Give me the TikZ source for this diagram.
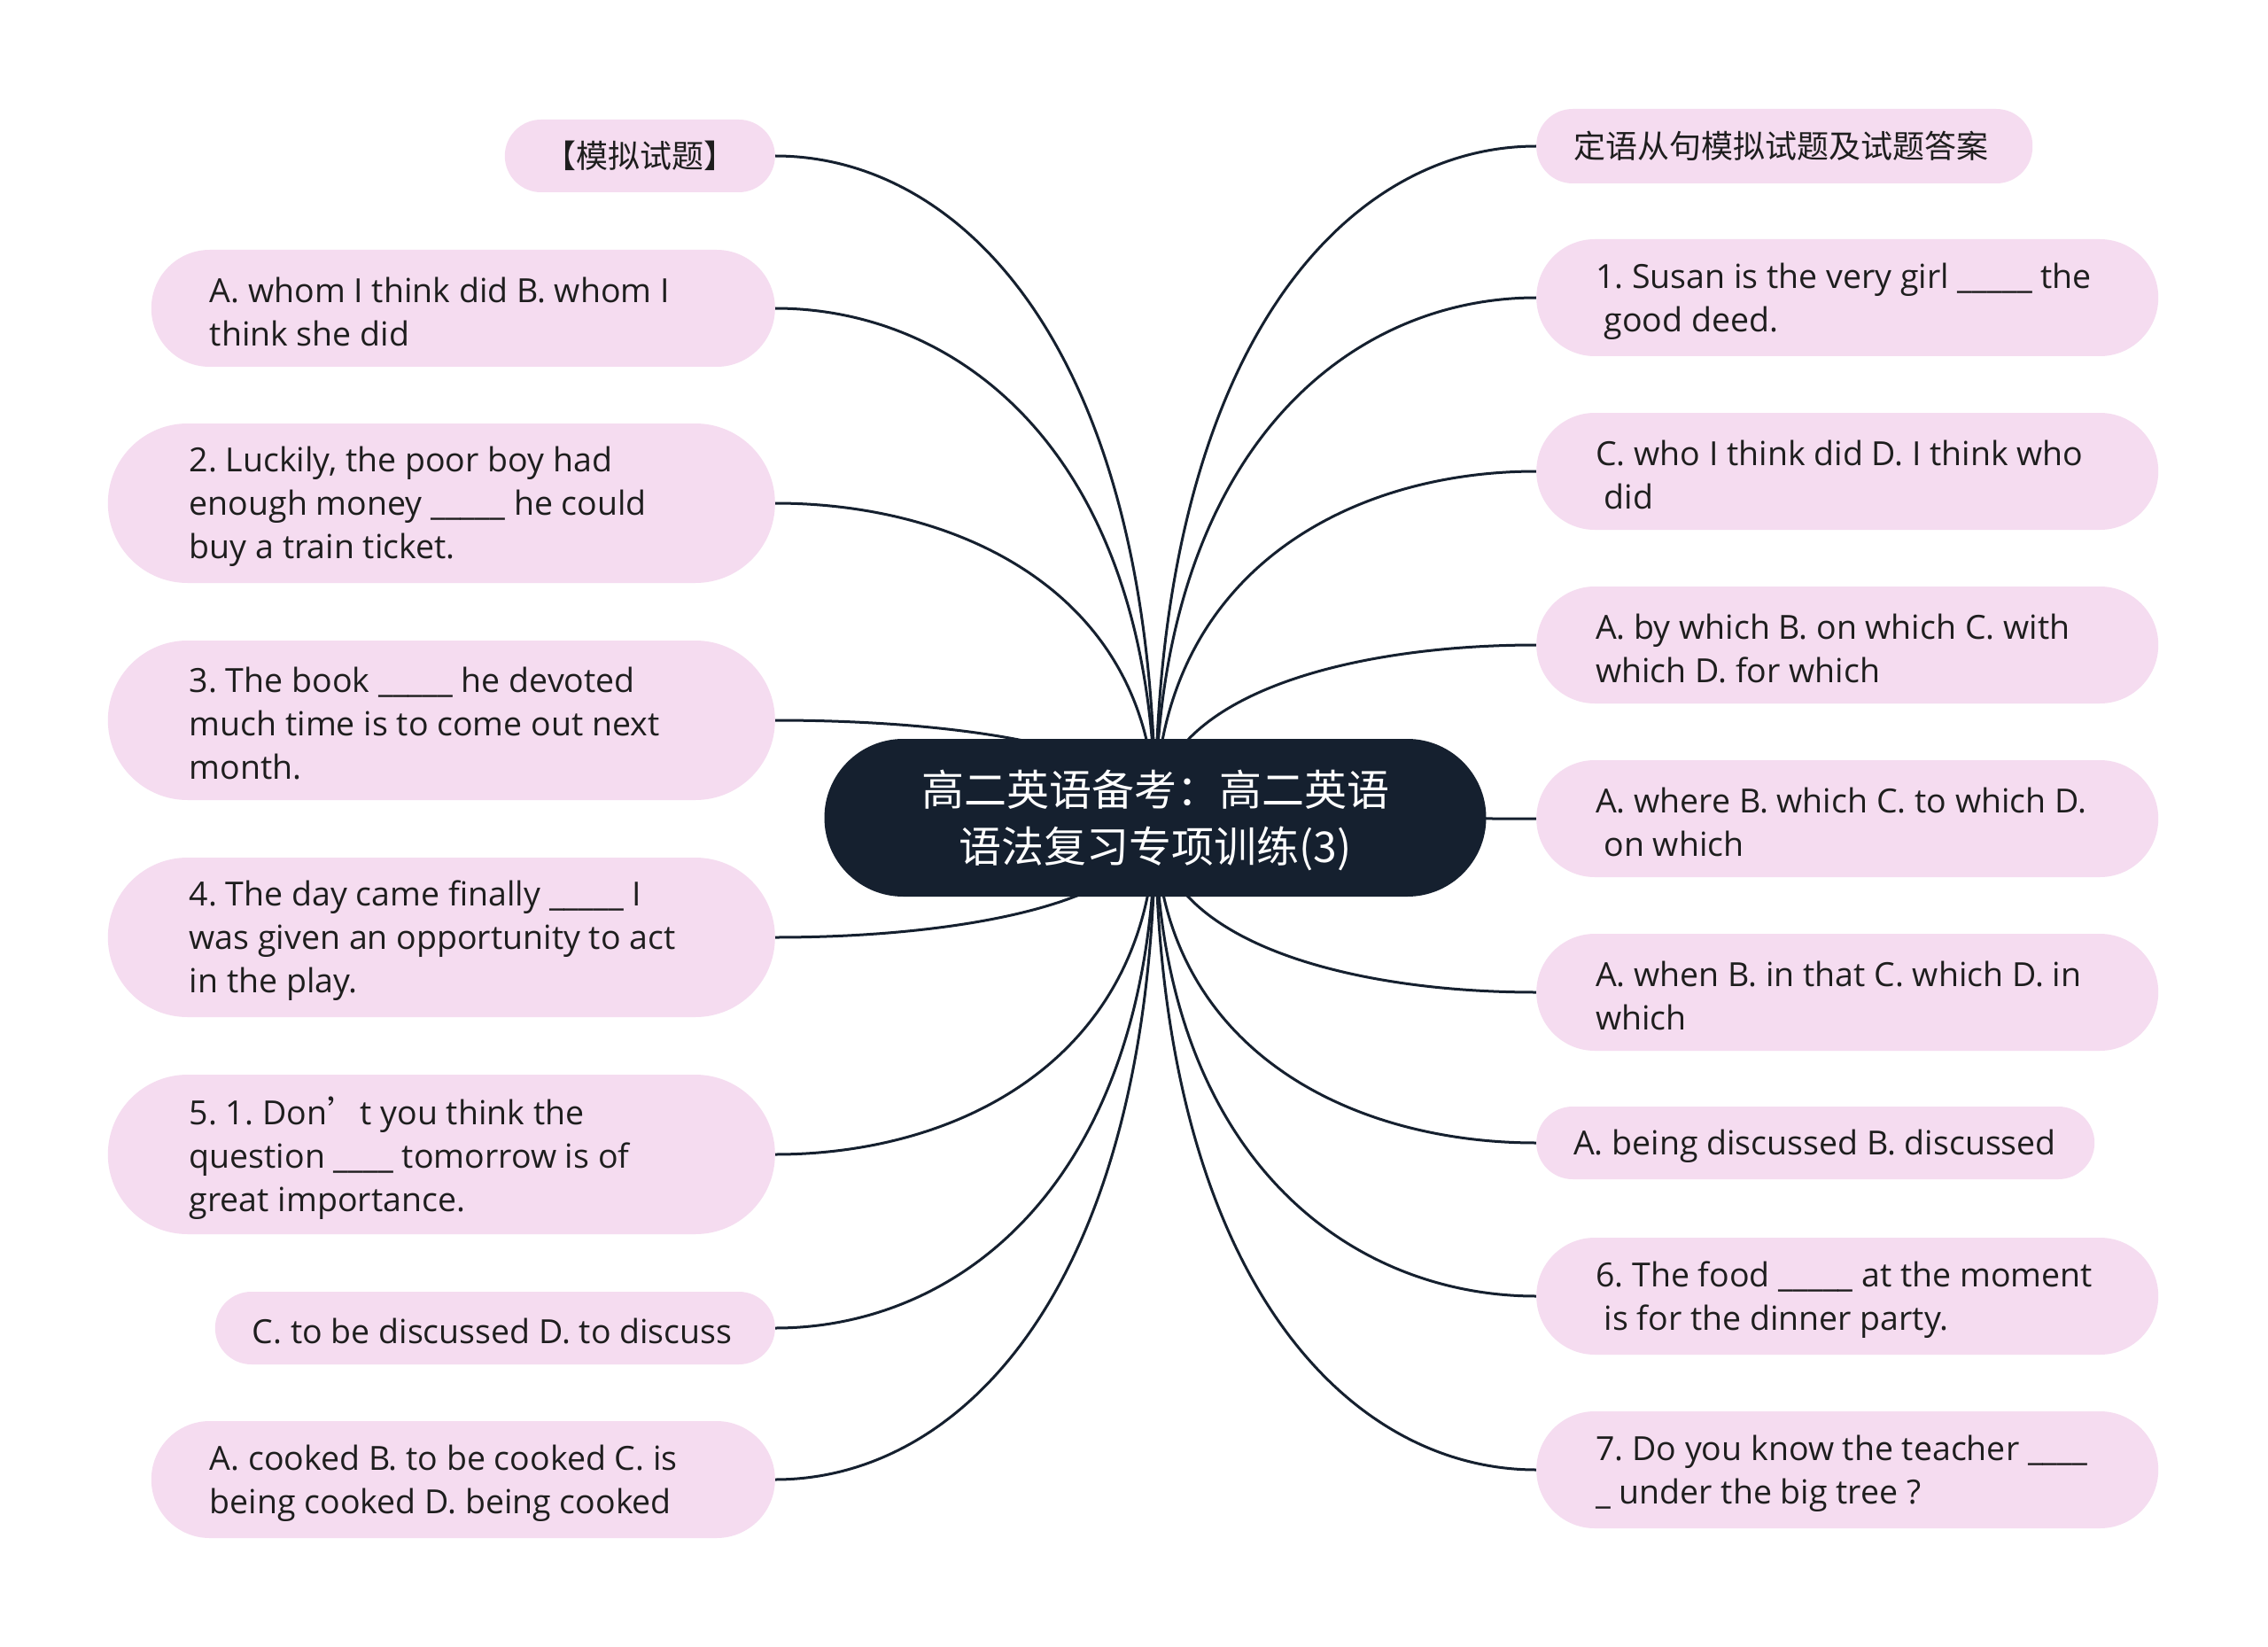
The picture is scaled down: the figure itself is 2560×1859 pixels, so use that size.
\documentclass[tikz,border=0pt]{standalone}
\usepackage{fontspec}
\setmainfont{Open Sans}
\newfontfamily\cjk{Noto Sans CJK SC}
\usetikzlibrary{calc}
\definecolor{navy}{HTML}{15202F}
\definecolor{pinkfill}{RGB}{245,220,240}
\definecolor{txt}{HTML}{1E1E1E}
\pgfdeclarelayer{bg}
\pgfsetlayers{bg,main}
\frenchspacing
\tikzset{
  pill/.style={fill=pinkfill, draw=none, inner sep=0pt},
  pillS/.style={pill, minimum height=82pt, rounded corners=41pt},
  pillM/.style={pill, minimum height=132pt, rounded corners=66pt},
  pillL/.style={pill, minimum height=180pt, rounded corners=90pt},
  lbl/.style={inner sep=0pt, align=left, text=txt, yshift=-4pt, font=\frenchspacing\fontsize{37.5}{49}\selectfont},
  cnlbl/.style={inner sep=0pt, align=left, text=txt, font=\cjk\fontsize{36}{49}\selectfont},
  conn/.style={draw=navy, line width=3pt},
}
\newcommand\linkW[1]{%
  \path ($(#1.east)!0.5!(c.center)$) coordinate (h1) ($(#1.east)!0.3!(c.center)$) coordinate (h2);
  \draw[conn] (#1.east) .. controls (h1 |- #1.east) and (c.center |- h2) .. (c.center);}
\newcommand\linkE[1]{%
  \path ($(#1.west)!0.5!(c.center)$) coordinate (h1) ($(#1.west)!0.3!(c.center)$) coordinate (h2);
  \draw[conn] (#1.west) .. controls (h1 |- #1.west) and (c.center |- h2) .. (c.center);}
\begin{document}
\begin{tikzpicture}[x=1pt,y=-1pt]
\useasboundingbox (0,0) rectangle (2560,1859);
% center
\node[fill=navy, minimum width=747pt, minimum height=178pt, rounded corners=89pt, inner sep=0pt] (c) at (1304,923) {};
\node[inner sep=0pt, align=center, text=white, yshift=-3pt, font=\cjk\fontsize{48}{64}\selectfont] (ct) at (c.center) {高二英语备考：高二英语\\语法复习专项训练(3)};
% left nodes
\node[pillS, minimum width=305pt, anchor=east] (L0) at (875,176) {};
\node[cnlbl] (L0t) at (L0.center) {【模拟试题】};
\node[pillM, minimum width=704pt, anchor=east] (L1) at (875,348) {};
\node[lbl, anchor=west] (L1t) at ([xshift=66pt]L1.west) {A. whom I think did B. whom I\\think she did};
\node[pillL, minimum width=753pt, anchor=east] (L2) at (875,568) {};
\node[lbl, anchor=west] (L2t) at ([xshift=92pt]L2.west) {2. Luckily, the poor boy had\\enough money \_\_\_\_\_ he could\\buy a train ticket.};
\node[pillL, minimum width=753pt, anchor=east] (L3) at (875,813) {};
\node[lbl, anchor=west] (L3t) at ([xshift=92pt]L3.west) {3. The book \_\_\_\_\_ he devoted\\much time is to come out next\\month.};
\node[pillL, minimum width=753pt, anchor=east] (L4) at (875,1058) {};
\node[lbl, anchor=west] (L4t) at ([xshift=92pt]L4.west) {4. The day came finally \_\_\_\_\_ I\\was given an opportunity to act\\in the play.};
\node[pillL, minimum width=753pt, anchor=east] (L5) at (875,1303) {};
\node[lbl, anchor=west] (L5t) at ([xshift=92pt]L5.west) {5. 1. Don{\cjk ’}t you think the\\question \_\_\_\_ tomorrow is of\\great importance.};
\node[pillS, minimum width=632pt, anchor=east] (L6) at (875,1499) {};
\node[lbl, anchor=west] (L6t) at ([xshift=42pt]L6.west) {C. to be discussed D. to discuss};
\node[pillM, minimum width=704pt, anchor=east] (L7) at (875,1670) {};
\node[lbl, anchor=west] (L7t) at ([xshift=66pt]L7.west) {A. cooked B. to be cooked C. is\\being cooked D. being cooked};
% right nodes
\node[pillS, minimum width=560pt, minimum height=84pt, anchor=west] (R0) at (1734,165) {};
\node[cnlbl, anchor=west] (R0t) at ([xshift=42pt]R0.west) {定语从句模拟试题及试题答案};
\node[pillM, minimum width=702pt, anchor=west] (R1) at (1734,336) {};
\node[lbl, anchor=west] (R1t) at ([xshift=67pt]R1.west) {1. Susan is the very girl \_\_\_\_\_ the\\\hspace*{.25em}good deed.};
\node[pillM, minimum width=702pt, anchor=west] (R2) at (1734,532) {};
\node[lbl, anchor=west] (R2t) at ([xshift=67pt]R2.west) {C. who I think did D. I think who\\\hspace*{.25em}did};
\node[pillM, minimum width=702pt, anchor=west] (R3) at (1734,728) {};
\node[lbl, anchor=west] (R3t) at ([xshift=67pt]R3.west) {A. by which B. on which C. with\\which D. for which};
\node[pillM, minimum width=702pt, anchor=west] (R4) at (1734,924) {};
\node[lbl, anchor=west] (R4t) at ([xshift=67pt]R4.west) {A. where B. which C. to which D.\\\hspace*{.25em}on which};
\node[pillM, minimum width=702pt, anchor=west] (R5) at (1734,1120) {};
\node[lbl, anchor=west] (R5t) at ([xshift=67pt]R5.west) {A. when B. in that C. which D. in\\which};
\node[pillS, minimum width=630pt, anchor=west] (R6) at (1734,1290) {};
\node[lbl, anchor=west] (R6t) at ([xshift=42pt]R6.west) {A. being discussed B. discussed};
\node[pillM, minimum width=702pt, anchor=west] (R7) at (1734,1463) {};
\node[lbl, anchor=west] (R7t) at ([xshift=67pt]R7.west) {6. The food \_\_\_\_\_ at the moment\\\hspace*{.25em}is for the dinner party.};
\node[pillM, minimum width=702pt, anchor=west] (R8) at (1734,1659) {};
\node[lbl, anchor=west] (R8t) at ([xshift=67pt]R8.west) {7. Do you know the teacher \_\_\_\_\\\_ under the big tree ?};
% connectors
\begin{pgfonlayer}{bg}
\fill[white] (0,0) rectangle (2560,1859);
\foreach \n in {L0,L1,L2,L3,L4,L5,L6,L7} {\linkW{\n}}
\foreach \n in {R0,R1,R2,R3,R4,R5,R6,R7,R8} {\linkE{\n}}
\end{pgfonlayer}
\end{tikzpicture}
\end{document}
